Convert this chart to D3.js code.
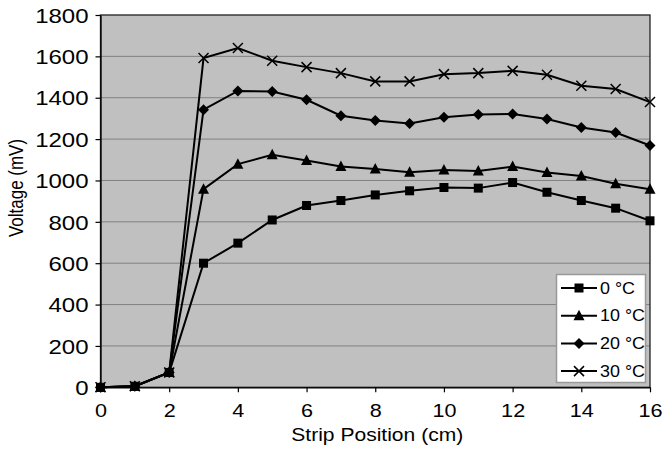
<!DOCTYPE html>
<html>
<head>
<meta charset="utf-8">
<script src="https://cdn.jsdelivr.net/npm/d3@7"></script>
<style>
  body { margin: 0; background: #fff; }
  text { font-family: "Liberation Sans", Arial, sans-serif; fill: #000; }
</style>
</head>
<body>
<div id="chart"></div>
<script>
// strip positions (cm)
var positions = [0, 1, 2, 3, 4, 5, 6, 7, 8, 9, 10, 11, 12, 13, 14, 15, 16];
// voltage (mV) per temperature
var volts0  = [0, 5, 72, 600, 697, 809, 879, 903, 930, 950, 966, 963, 990, 943, 903, 866, 805];
var volts10 = [0, 5, 72, 958, 1079, 1124, 1096, 1067, 1055, 1040, 1051, 1046, 1067, 1038, 1022, 984, 958];
var volts20 = [0, 5, 72, 1342, 1433, 1430, 1390, 1313, 1290, 1275, 1306, 1319, 1321, 1297, 1256, 1232, 1169];
var volts30 = [0, 5, 72, 1592, 1640, 1579, 1548, 1519, 1479, 1479, 1514, 1519, 1530, 1511, 1458, 1442, 1379];
var seriesNames = ["0 \u00B0C", "10 \u00B0C", "20 \u00B0C", "30 \u00B0C"];
var markerTypes = ["square", "triangle", "diamond", "cross"];
var xTicks = [0, 2, 4, 6, 8, 10, 12, 14, 16];
var yTicks = [0, 200, 400, 600, 800, 1000, 1200, 1400, 1600, 1800];

var chartW = 666, chartH = 449;
var plotL = 100.5, plotR = 650, plotT = 15, plotB = 387.3;

var svg = d3.select("#chart").append("svg")
	.attr("width", chartW)
	.attr("height", chartH);

var x = d3.scaleLinear().domain([0, 16]).range([plotL, plotR]);
var y = d3.scaleLinear().domain([0, 1800]).range([plotB, plotT]);

// plot area
svg.append("rect")
	.attr("x", plotL).attr("y", plotT)
	.attr("width", plotR - plotL).attr("height", plotB - plotT)
	.style("fill", "#c0c0c0");

// gridlines
svg.append("g").selectAll("line")
	.data(yTicks.slice(1, -1))
	.enter().append("line")
	.attr("x1", plotL).attr("x2", plotR)
	.attr("y1", function(d) { return y(d); })
	.attr("y2", function(d) { return y(d); })
	.style("stroke", "#808080")
	.style("stroke-width", 1);

svg.append("rect")
	.attr("x", plotL).attr("y", plotT)
	.attr("width", plotR - plotL).attr("height", plotB - plotT)
	.style("fill", "none")
	.style("stroke", "#222")
	.style("stroke-width", 1.3);

// axes
var yAxis = svg.append("g")
	.attr("transform", "translate(" + plotL + ",0)")
	.call(d3.axisLeft(y).tickValues(yTicks).tickFormat(d3.format("d")).tickSize(5).tickSizeOuter(0).tickPadding(0));
var xAxis = svg.append("g")
	.attr("transform", "translate(0," + plotB + ")")
	.call(d3.axisBottom(x).tickValues(xTicks).tickFormat(d3.format("d")).tickSize(5).tickSizeOuter(0).tickPadding(0));

[yAxis, xAxis].forEach(function(ax) {
	ax.select(".domain").style("stroke", "#000").style("stroke-width", 1.3);
	ax.selectAll(".tick line").style("stroke", "#000").style("stroke-width", 1.2);
	ax.selectAll(".tick text")
		.style("font-family", "Liberation Sans, Arial, sans-serif");
});
yAxis.selectAll(".tick text")
	.style("font-size", "20px")
	.attr("x", -12 / 1.2).attr("dy", "0.36em")
	.attr("transform", "scale(1.2,1)");
xAxis.selectAll(".tick text")
	.style("font-size", "18px")
	.attr("y", 0).attr("dy", "30px")
	.attr("transform", "scale(1.2,1)");

// axis titles
svg.append("text")
	.attr("transform", "translate(" + ((plotL + plotR) / 2 + 2) + ",441) scale(1.17,1)")
	.attr("text-anchor", "middle")
	.style("font-size", "18px")
	.text("Strip Position (cm)");

svg.append("text")
	.attr("transform", "translate(23,188) rotate(-90) scale(1,1.2)")
	.attr("text-anchor", "middle")
	.style("font-size", "17px")
	.text("Voltage (mV)");

// series
var allSeries = [volts0, volts10, volts20, volts30];
var line = d3.line()
	.x(function(d, i) { return x(positions[i]); })
	.y(function(d) { return y(d); });

function drawMarker(g, type, cx, cy) {
	if (type === "square") {
		g.append("rect").attr("x", cx - 4.5).attr("y", cy - 4.5)
			.attr("width", 9).attr("height", 9).style("fill", "#000");
	} else if (type === "triangle") {
		g.append("path")
			.attr("d", "M" + cx + "," + (cy - 6) + "L" + (cx + 5.5) + "," + (cy + 4.5) + "L" + (cx - 5.5) + "," + (cy + 4.5) + "Z")
			.style("fill", "#000");
	} else if (type === "diamond") {
		g.append("path")
			.attr("d", "M" + cx + "," + (cy - 5.5) + "L" + (cx + 5.5) + "," + cy + "L" + cx + "," + (cy + 5.5) + "L" + (cx - 5.5) + "," + cy + "Z")
			.style("fill", "#000");
	} else {
		g.append("path")
			.attr("d", "M" + (cx - 5) + "," + (cy - 5) + "L" + (cx + 5) + "," + (cy + 5) + "M" + (cx + 5) + "," + (cy - 5) + "L" + (cx - 5) + "," + (cy + 5))
			.style("stroke", "#000").style("stroke-width", 1.5).style("fill", "none");
	}
}

allSeries.forEach(function(vals, s) {
	svg.append("path")
		.datum(vals)
		.attr("d", line)
		.style("fill", "none")
		.style("stroke", "#000")
		.style("stroke-width", 2);
	var mg = svg.append("g");
	vals.forEach(function(v, i) {
		drawMarker(mg, markerTypes[s], x(positions[i]), y(v));
	});
});

// legend
var lg = svg.append("g");
lg.append("rect")
	.attr("x", 556.5).attr("y", 274.5)
	.attr("width", 89).attr("height", 108)
	.style("fill", "#fff")
	.style("stroke", "#999")
	.style("stroke-width", 1.5);
seriesNames.forEach(function(name, s) {
	var ly = 288 + s * 27.7;
	lg.append("line")
		.attr("x1", 561).attr("x2", 597)
		.attr("y1", ly).attr("y2", ly)
		.style("stroke", "#000").style("stroke-width", 2);
	drawMarker(lg, markerTypes[s], 579, ly);
	lg.append("text")
		.attr("transform", "translate(600," + (ly + 5.5) + ") scale(1.12,1)")
		.style("font-size", "16px")
		.text(name);
});
</script>
</body>
</html>
